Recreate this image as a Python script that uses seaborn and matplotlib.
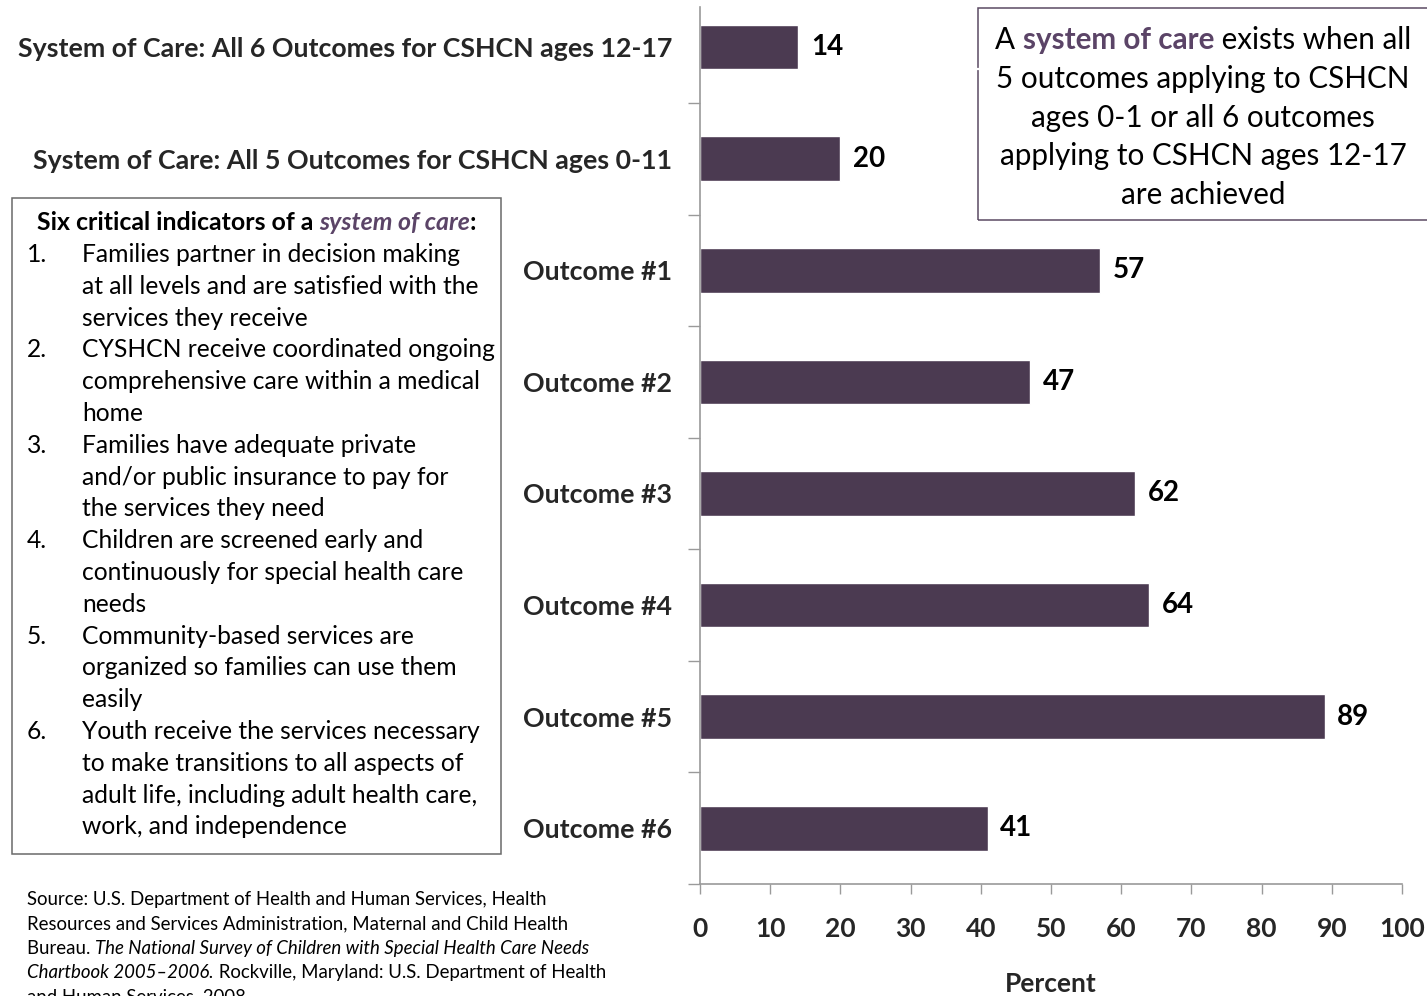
import matplotlib
matplotlib.use("Agg")
import matplotlib.pyplot as plt
import matplotlib.patches as mpatches
import matplotlib.lines as mlines
from matplotlib.ticker import FixedLocator
import seaborn as sns
import pandas as pd

# ---------------- data ----------------
categories = [
    "System of Care: All 6 Outcomes for CSHCN ages 12-17",
    "System of Care: All 5 Outcomes for CSHCN ages 0-11",
    "Outcome #1", "Outcome #2", "Outcome #3",
    "Outcome #4", "Outcome #5", "Outcome #6",
]
values = [14, 20, 57, 47, 62, 64, 89, 41]
x_ticks = [0, 10, 20, 30, 40, 50, 60, 70, 80, 90, 100]
x_label = "Percent"

box_title = [("Six critical indicators of a ", {"weight": "bold"}),
             ("system of care", {"weight": "bold", "style": "italic", "color": "#5B4467"}),
             (":", {"weight": "bold"})]
indicators = [
    ["Families partner in decision making", "at all levels and are satisfied with the", "services they receive"],
    ["CYSHCN receive coordinated ongoing", "comprehensive care within a medical", "home"],
    ["Families have adequate private", "and/or public insurance to pay for", "the services they need"],
    ["Children are screened early and", "continuously for special health care", "needs"],
    ["Community-based services are", "organized so families can use them", "easily"],
    ["Youth receive the services necessary", "to make transitions to all aspects of",
     "adult life, including adult health care,", "work, and independence"],
]
note_lines = [
    [("A ", {}), ("system of care", {"weight": "bold", "color": "#5B4467"}), (" exists when all", {})],
    [("5 outcomes applying to CSHCN", {})],
    [("ages 0-1 or all 6 outcomes", {})],
    [("applying to CSHCN ages 12-17", {})],
    [("are achieved", {})],
]
source_lines = [
    [("Source: U.S. Department of Health and Human Services, Health", {})],
    [("Resources and Services Administration, Maternal and Child Health", {})],
    [("Bureau. ", {}), ("The National Survey of Children with Special Health Care Needs", {"style": "italic"})],
    [("Chartbook 2005\u20132006.", {"style": "italic"}), (" Rockville, Maryland: U.S. Department of Health", {})],
    [("and Human Services, 2008.", {})],
]

# ---------------- figure ----------------
W, H = 1427, 996
sns.set_theme(style="white")
plt.rcParams["font.family"] = ["Lato", "DejaVu Sans"]
fig = plt.figure(figsize=(W / 100, H / 100), dpi=100)
fig.patch.set_facecolor("white")

BAR = "#4B3A51"
GRAY = "#9A9A9A"

ax = fig.add_axes([700 / W, 1 - 884 / H, 702 / W, 877 / H])
df = pd.DataFrame({"cat": categories, "val": values})
sns.barplot(data=df, y="cat", x="val", orient="h", color=BAR, width=0.4,
            saturation=1, ax=ax)
ax.set_xlim(0, 100)
ax.set_ylim(7.5, -0.36)
ax.set_facecolor("white")
for s in ["top", "right"]:
    ax.spines[s].set_visible(False)
for s in ["left", "bottom"]:
    ax.spines[s].set_color(GRAY)
    ax.spines[s].set_linewidth(1.2)

ax.set_xticks(x_ticks)
ax.set_xticklabels([str(t) for t in x_ticks], fontsize=19, fontweight="bold")
ax.tick_params(axis="x", length=7, width=1, color=GRAY, pad=17, direction="out", bottom=True)
ax.set_xlabel(x_label, fontsize=19, fontweight="bold", labelpad=22)

ax.set_ylabel("")
ax.tick_params(axis="y", which="major", length=0, pad=20, labelsize=19.3)
for lab in ax.get_yticklabels():
    lab.set_fontweight("bold")
ax.yaxis.set_minor_locator(FixedLocator([i + 0.5 for i in range(len(categories))]))
ax.tick_params(axis="y", which="minor", length=8.5, width=1, color=GRAY, left=True)

for cont in ax.containers:
    ax.bar_label(cont, labels=[str(v) for v in values], padding=9,
                 fontsize=20, fontweight="bold", color="black")

# ---------------- rich text helpers ----------------
renderer = fig.canvas.get_renderer()


def fx(x):
    return x / W


def fy(y):
    return 1 - y / H


def measure(s, size, style):
    t1 = fig.text(0, 0, "|" + s + "|", fontsize=size, **style)
    w1 = t1.get_window_extent(renderer).width
    t1.remove()
    t2 = fig.text(0, 0, "||", fontsize=size, **style)
    w2 = t2.get_window_extent(renderer).width
    t2.remove()
    return w1 - w2


def rich(pieces, x, y, size, ha="left"):
    widths = [measure(s, size, st) for s, st in pieces]
    total = sum(widths)
    x0 = x - total / 2 if ha == "center" else x
    for (s, st), w in zip(pieces, widths):
        kw = {"color": "black"}
        kw.update(st)
        fig.text(fx(x0), fy(y), s, fontsize=size, va="baseline", ha="left", **kw)
        x0 += w


# ---------------- left box ----------------
fig.add_artist(mpatches.Rectangle((fx(12), fy(854)), (501 - 12) / W, (854 - 198) / H,
                                  transform=fig.transFigure, fill=False,
                                  edgecolor="#6A6A6A", linewidth=1.1))
rich(box_title, 256.5, 230, 17.9, ha="center")
y = 262
step = 31.8
for i, item in enumerate(indicators):
    fig.text(fx(27), fy(y), f"{i + 1}.", fontsize=17.7, va="baseline", ha="left", color="black")
    for line in item:
        fig.text(fx(82), fy(y), line, fontsize=17.7, va="baseline", ha="left", color="black")
        y += step

# ---------------- right note box ----------------
fig.add_artist(mpatches.Rectangle((fx(978), fy(220)), (1440 - 978) / W, (220 - 8) / H,
                                  transform=fig.transFigure, fill=False,
                                  edgecolor="#5B4A63", linewidth=1.1))
yb = 49
for line in note_lines:
    rich(line, 1203, yb, 21.3, ha="center")
    yb += 38.8
fig.add_artist(mlines.Line2D([fx(975), fx(1427)], [fy(69), fy(69)], transform=fig.transFigure,
                             color="white", linewidth=1.6))

# ---------------- source ----------------
yb = 905
for line in source_lines:
    rich(line, 27, yb, 13.4)
    yb += 24.3

fig.savefig("out.png", dpi=100, facecolor="white")
